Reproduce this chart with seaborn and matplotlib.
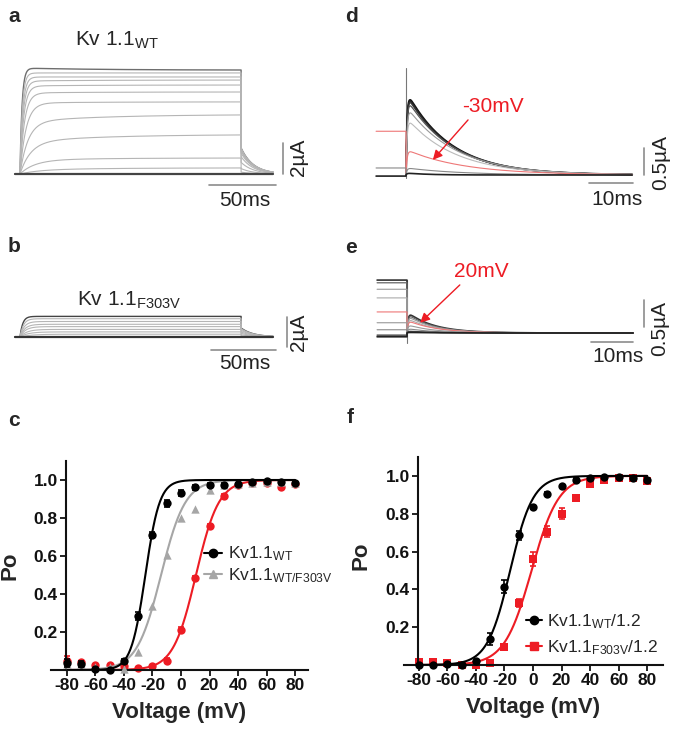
import numpy as np
import matplotlib
matplotlib.use('Agg')
import matplotlib.pyplot as plt
import seaborn as sns
from matplotlib.lines import Line2D

# ---- data ----
# panel a: Kv1.1 WT currents (uA), top trace first
early_a = [6.84, 6.52, 6.26, 6.00, 5.68, 5.23, 4.58, 3.35, 2.06, 0.90, 0.26, 0.0]
end_a = [6.71, 6.52, 6.26, 6.06, 5.74, 5.29, 4.65, 3.81, 2.52, 1.03, 0.39, 0.0]
tau_a = [1.5, 1.7, 2.0, 2.3, 2.7, 3.3, 4.5, 6.0, 8.0, 11.0, 14.0, 1.0]
tail_a = [1.68, 1.66, 1.63, 1.60, 1.55, 1.48, 1.35, 1.12, 0.75, 0.35, 0.12, 0.0]

# panel b: Kv1.1 F303V currents (uA)
end_b = [1.33, 1.18, 1.00, 0.82, 0.67, 0.49, 0.33, 0.18, 0.0]
tau_b = [2.0, 2.5, 3.0, 3.5, 4.0, 5.0, 6.0, 8.0, 1.0]
tail_b = [0.58, 0.55, 0.50, 0.42, 0.33, 0.24, 0.15, 0.07, 0.0]

# panel d: tail currents (uA); nan = prepulse not shown
peak_d = [1.39, 1.37, 1.34, 1.28, 1.15, 0.96, 0.43, 0.12, 0.03]
pre_d = [np.nan, np.nan, np.nan, np.nan, np.nan, np.nan, 0.81, 0.13, -0.02]
tau_d = [10, 10, 10, 10.5, 11, 11, 13, 12, 5]

# panel e
peak_e = [0.33, 0.30, 0.27, 0.23, 0.20, 0.13, 0.07, 0.03, 0.01]
pre_e = [0.98, 0.93, 0.81, 0.65, 0.39, 0.19, 0.06, -0.04, -0.07]
tau_e = [6, 6, 6, 6, 6.5, 6, 6, 6, 6]

# panels c and f: open probability
volts = [-80, -70, -60, -50, -40, -30, -20, -10, 0, 10, 20, 30, 40, 50, 60, 70, 80]
po_wt = [0.037, 0.033, 0.007, 0.0, 0.05, 0.283, 0.71, 0.877, 0.933, 0.961, 0.974,
         0.975, 0.977, 0.988, 0.996, 0.99, 0.982]
err_wt = [0.02, 0.015, 0.005, 0.005, 0.01, 0.02, 0.015, 0.018, 0.015, 0.015, 0.01,
          0.01, 0.008, 0.005, 0.005, 0.005, 0.008]
po_het = [0.03, 0.03, 0.015, 0.015, 0.005, 0.095, 0.336, 0.605, 0.798, 0.85, 0.947,
          0.974, 0.98, 0.985, 0.99, 0.99, 0.985]
po_mut = [0.05, 0.04, 0.025, 0.025, 0.02, 0.01, 0.02, 0.05, 0.213, 0.485, 0.757,
          0.916, 0.975, 0.985, 0.985, 0.965, 0.98]
err_mut = [0.025, 0.01, 0.008, 0.005, 0.008, 0.005, 0.005, 0.015, 0.015, 0.01, 0.01,
           0.01, 0.008, 0.005, 0.005, 0.01, 0.008]
po_wt12 = [0.0, 0.0, 0.005, 0.0, 0.02, 0.137, 0.415, 0.685, 0.834, 0.905, 0.944,
           0.979, 0.988, 0.996, 0.993, 0.988, 0.979]
err_wt12 = [0.005, 0.005, 0.005, 0.005, 0.005, 0.03, 0.035, 0.025, 0.01, 0.008, 0.008,
            0.008, 0.005, 0.005, 0.005, 0.005, 0.008]
po_mut12 = [0.018, 0.018, 0.013, 0.0, 0.0, 0.013, 0.094, 0.327, 0.56, 0.706, 0.8,
            0.882, 0.956, 0.98, 0.99, 0.988, 0.975]
err_mut12 = [0.005, 0.005, 0.005, 0.005, 0.005, 0.005, 0.008, 0.02, 0.035, 0.03, 0.03,
             0.015, 0.01, 0.005, 0.005, 0.005, 0.008]

# Boltzmann fits (V1/2, k)
fit_c = {'wt': (-25, 5.0), 'het': (-14, 8.5), 'mut': (10.5, 8.0)}
fit_f = {'wt': (-16, 8.0), 'mut': (-1, 9.5)}

RED = '#ed1c24'
GREY = '#a6a6a6'

sns.set_theme(style='ticks')
plt.rcParams['font.family'] = ['Liberation Sans', 'DejaVu Sans']
plt.rcParams['mathtext.fontset'] = 'custom'
plt.rcParams['mathtext.rm'] = 'Liberation Sans'
plt.rcParams['mathtext.it'] = 'Liberation Sans:italic'
plt.rcParams['mathtext.bf'] = 'Liberation Sans:bold'
plt.rcParams['axes.unicode_minus'] = False

W, H = 675, 730
fig = plt.figure(figsize=(W / 100, H / 100), dpi=100)


def trace_axes(box, t0_px, px_ms, base_px, px_ua):
    x0, y0, x1, y1 = box
    ax = fig.add_axes([x0 / W, 1 - y1 / H, (x1 - x0) / W, (y1 - y0) / H])
    ax.set_xlim((x0 - t0_px) / px_ms, (x1 - t0_px) / px_ms)
    ax.set_ylim((base_px - y1) / px_ua, (base_px - y0) / px_ua)
    ax.axis('off')
    return ax


def boltz(v, vh, k):
    return 1 / (1 + np.exp((vh - v) / k))


def step_traces(ax, early, end, taus, tails, colors, widths, dur=165):
    t_step = np.arange(0, dur + 0.01, 0.25)
    t_tail = np.arange(0, 24.01, 0.25)
    for e0, e1, tau, tl, c, lw in zip(early, end, taus, tails, colors, widths):
        slow = (e1 - e0) * (1 - np.exp(-t_step / 60)) / (1 - np.exp(-dur / 60))
        i_step = e0 * (1 - np.exp(-t_step / tau)) + slow
        i_tail = tl * np.exp(-t_tail / 9)
        t = np.concatenate([[-3.7], t_step, dur + t_tail])
        y = np.concatenate([[0], i_step, i_tail])
        ax.plot(t, y, color=c, lw=lw)


def tail_traces(ax, peaks, pres, taus, colors, widths):
    t = np.arange(0, 51.5, 0.1)
    for p, pre, tau, c, lw in zip(peaks, pres, taus, colors, widths):
        shape = np.exp(-t / tau) * (1 - np.exp(-t / 0.25))
        y = p * shape / shape.max()
        tt, yy = t, y
        if not np.isnan(pre):
            tt = np.concatenate([[-6.8, 0], t])
            yy = np.concatenate([[pre, pre], y])
        ax.plot(tt, yy, color=c, lw=lw)


def scale_bar(ax, xs, ys, label, tx, ty, rot=0):
    ax.plot(xs, ys, color='#8c8c8c', lw=1.2, clip_on=False)
    ax.text(tx, ty, label, fontsize=15, rotation=rot, ha='center', va='center',
            color='#222222')


# ---- panel a ----
ax_a = trace_axes((0, 25, 337, 215), 20, 1.34, 174, 15.5)
cols = ['#6e6e6e'] + ['#b5b5b5'] * 10 + ['#444444']
lws = [1.0] + [0.8] * 10 + [1.6]
step_traces(ax_a, early_a, end_a, tau_a, tail_a, cols, lws)
ax_a.text(41, 8.65, r'Kv 1.1$_{\mathrm{WT}}$', fontsize=15, ha='left', va='center')
scale_bar(ax_a, [196.3, 196.3], [0, 2], '2µA', 207.5, 1.1, rot=90)
scale_bar(ax_a, [141, 191], [-0.71, -0.71], '50ms', 168, -1.68)

# ---- panel b ----
ax_b = trace_axes((0, 270, 337, 375), 20, 1.34, 337, 15.5)
cols = ['#444444'] + ['#b5b5b5'] * 7 + ['#333333']
lws = [1.0] + [0.8] * 7 + [1.6]
step_traces(ax_b, end_b, end_b, tau_b, tail_b, cols, lws)
ax_b.text(42.5, 2.39, r'Kv 1.1$_{\mathrm{F303V}}$', fontsize=15, ha='left', va='center')
scale_bar(ax_b, [199, 199], [-0.65, 1.29], '2µA', 208, 0.32, rot=90)
scale_bar(ax_b, [142.5, 191], [-0.84, -0.84], '50ms', 168, -1.68)

# ---- panel d ----
ax_d = trace_axes((340, 25, 675, 215), 406, 4.4, 175, 54)
ax_d.plot([0, 0], [-0.05, 1.98], color='#777777', lw=0.8)
cols = ['#111111', '#222222', '#333333', '#555555', '#999999', '#bbbbbb',
        '#ee7777', '#888888', '#222222']
lws = [1.4, 1.0, 1.0, 0.9, 0.8, 0.8, 0.8, 0.8, 1.2]
tail_traces(ax_d, peak_d, pre_d, tau_d, cols, lws)
ax_d.annotate('', xy=(6.1, 0.28), xytext=(14.1, 1.02),
              arrowprops=dict(arrowstyle='-|>', color=RED, lw=1.0,
                              mutation_scale=14, shrinkA=0, shrinkB=0))
ax_d.text(19.8, 1.26, '-30mV', color=RED, fontsize=15, ha='center', va='center')
scale_bar(ax_d, [54.1, 54.1], [0, 0.5], '0.5µA', 57.8, 0.24, rot=90)
scale_bar(ax_d, [41.6, 51.6], [-0.15, -0.15], '10ms', 48, -0.46)

# ---- panel e ----
ax_e = trace_axes((340, 255, 675, 375), 407, 4.4, 333, 54)
ax_e.plot([0, 0], [-0.19, 0.98], color='#777777', lw=0.8)
cols = ['#333333', '#666666', '#999999', '#aaaaaa', '#ee7777', '#999999',
        '#888888', '#444444', '#222222']
lws = [1.2, 0.9, 0.8, 0.8, 0.8, 0.8, 0.8, 1.0, 1.2]
tail_traces(ax_e, peak_e, pre_e, tau_e, cols, lws)
ax_e.annotate('', xy=(3.0, 0.19), xytext=(12.0, 0.89),
              arrowprops=dict(arrowstyle='-|>', color=RED, lw=1.0,
                              mutation_scale=14, shrinkA=0, shrinkB=0))
ax_e.text(16.8, 1.13, '20mV', color=RED, fontsize=15, ha='center', va='center')
scale_bar(ax_e, [53.9, 53.9], [0.11, 0.61], '0.5µA', 57.5, 0.09, rot=90)
scale_bar(ax_e, [41.8, 51.4], [-0.17, -0.17], '10ms', 48, -0.44)


# ---- Po panels ----
def po_axes(box, xlim, ylab_xy):
    x0, y0, x1, y1 = box
    ax = fig.add_axes([x0 / W, 1 - y1 / H, (x1 - x0) / W, (y1 - y0) / H])
    ax.set_xlim(xlim)
    ax.set_ylim(0, 1.1)
    sns.despine(ax=ax)
    # y axis sits at -80 mV, x axis runs a bit further left (GraphPad style)
    ax.spines['left'].set_position(('data', -80.5))
    for s in ('left', 'bottom'):
        ax.spines[s].set_linewidth(1.5)
        ax.spines[s].set_color('#111111')
    ax.set_xticks(range(-80, 81, 20))
    ax.set_yticks([0.2, 0.4, 0.6, 0.8, 1.0])
    ax.set_yticklabels(['0.2', '0.4', '0.6', '0.8', '1.0'])
    ax.tick_params(direction='out', length=4, width=1.3, labelsize=12.5, pad=2,
                   colors='#111111')
    for lbl in ax.get_xticklabels() + ax.get_yticklabels():
        lbl.set_fontweight('bold')
    ax.set_xlabel('Voltage (mV)', fontsize=16, fontweight='bold', labelpad=6)
    ax.set_ylabel('Po', fontsize=16, fontweight='bold')
    ax.yaxis.set_label_coords(*ylab_xy)
    return ax


def series(ax, po, err, color, marker, fit, z):
    vv = np.linspace(-80, 80, 400)
    sns.lineplot(x=vv, y=boltz(vv, *fit), ax=ax, color=color, lw=1.5, zorder=z)
    if err is not None:
        ax.errorbar(volts, po, yerr=err, fmt='none', ecolor=color, elinewidth=1.2,
                    capsize=2.5, capthick=1.2, zorder=z + 0.1)
    sns.scatterplot(x=volts, y=po, ax=ax, color=color, marker=marker, s=36,
                    linewidth=0, zorder=z + 0.2, clip_on=False)


ax_c = po_axes((51, 461, 308, 670), (-91.2, 89.1), (-0.12, 0.5))
series(ax_c, po_mut, err_mut, RED, 'o', fit_c['mut'], 2)
series(ax_c, po_het, None, GREY, '^', fit_c['het'], 3)
series(ax_c, po_wt, err_wt, 'black', 'o', fit_c['wt'], 4)
hc = [Line2D([0], [0], color='black', lw=1.5, marker='o', ms=6),
      Line2D([0], [0], color=GREY, lw=1.5, marker='^', ms=6)]
ax_c.legend(hc, [r'Kv1.1$_{\mathrm{WT}}$', r'Kv1.1$_{\mathrm{WT/F303V}}$'],
            loc='upper left', bbox_to_anchor=(0.595, 0.60), frameon=False,
            fontsize=12.5, handlelength=1.05, handletextpad=0.35, labelspacing=0.15,
            borderpad=0, borderaxespad=0)

ax_f = po_axes((404, 457, 663, 665), (-90.4, 91.1), (-0.124, 0.525))
series(ax_f, po_mut12, err_mut12, RED, 's', fit_f['mut'], 2)
series(ax_f, po_wt12, err_wt12, 'black', 'o', fit_f['wt'], 4)
hf = [Line2D([0], [0], color='black', lw=1.5, marker='o', ms=6),
      Line2D([0], [0], color=RED, lw=1.5, marker='s', ms=6)]
ax_f.legend(hf, [r'Kv1.1$_{\mathrm{WT}}$/1.2', r'Kv1.1$_{\mathrm{F303V}}$/1.2'],
            loc='upper left', bbox_to_anchor=(0.47, 0.255), frameon=False,
            fontsize=12.5, handlelength=0.95, handletextpad=0.3, labelspacing=0.45,
            borderpad=0, borderaxespad=0)

# panel letters
for letter, px, py in [('a', 8, 17), ('b', 8, 247), ('c', 8, 420),
                       ('d', 345, 17), ('e', 345, 248), ('f', 347, 417)]:
    fig.text(px / W, 1 - py / H, letter, fontsize=15, fontweight='bold',
             ha='left', va='center')

fig.savefig('out.png', dpi=100)
